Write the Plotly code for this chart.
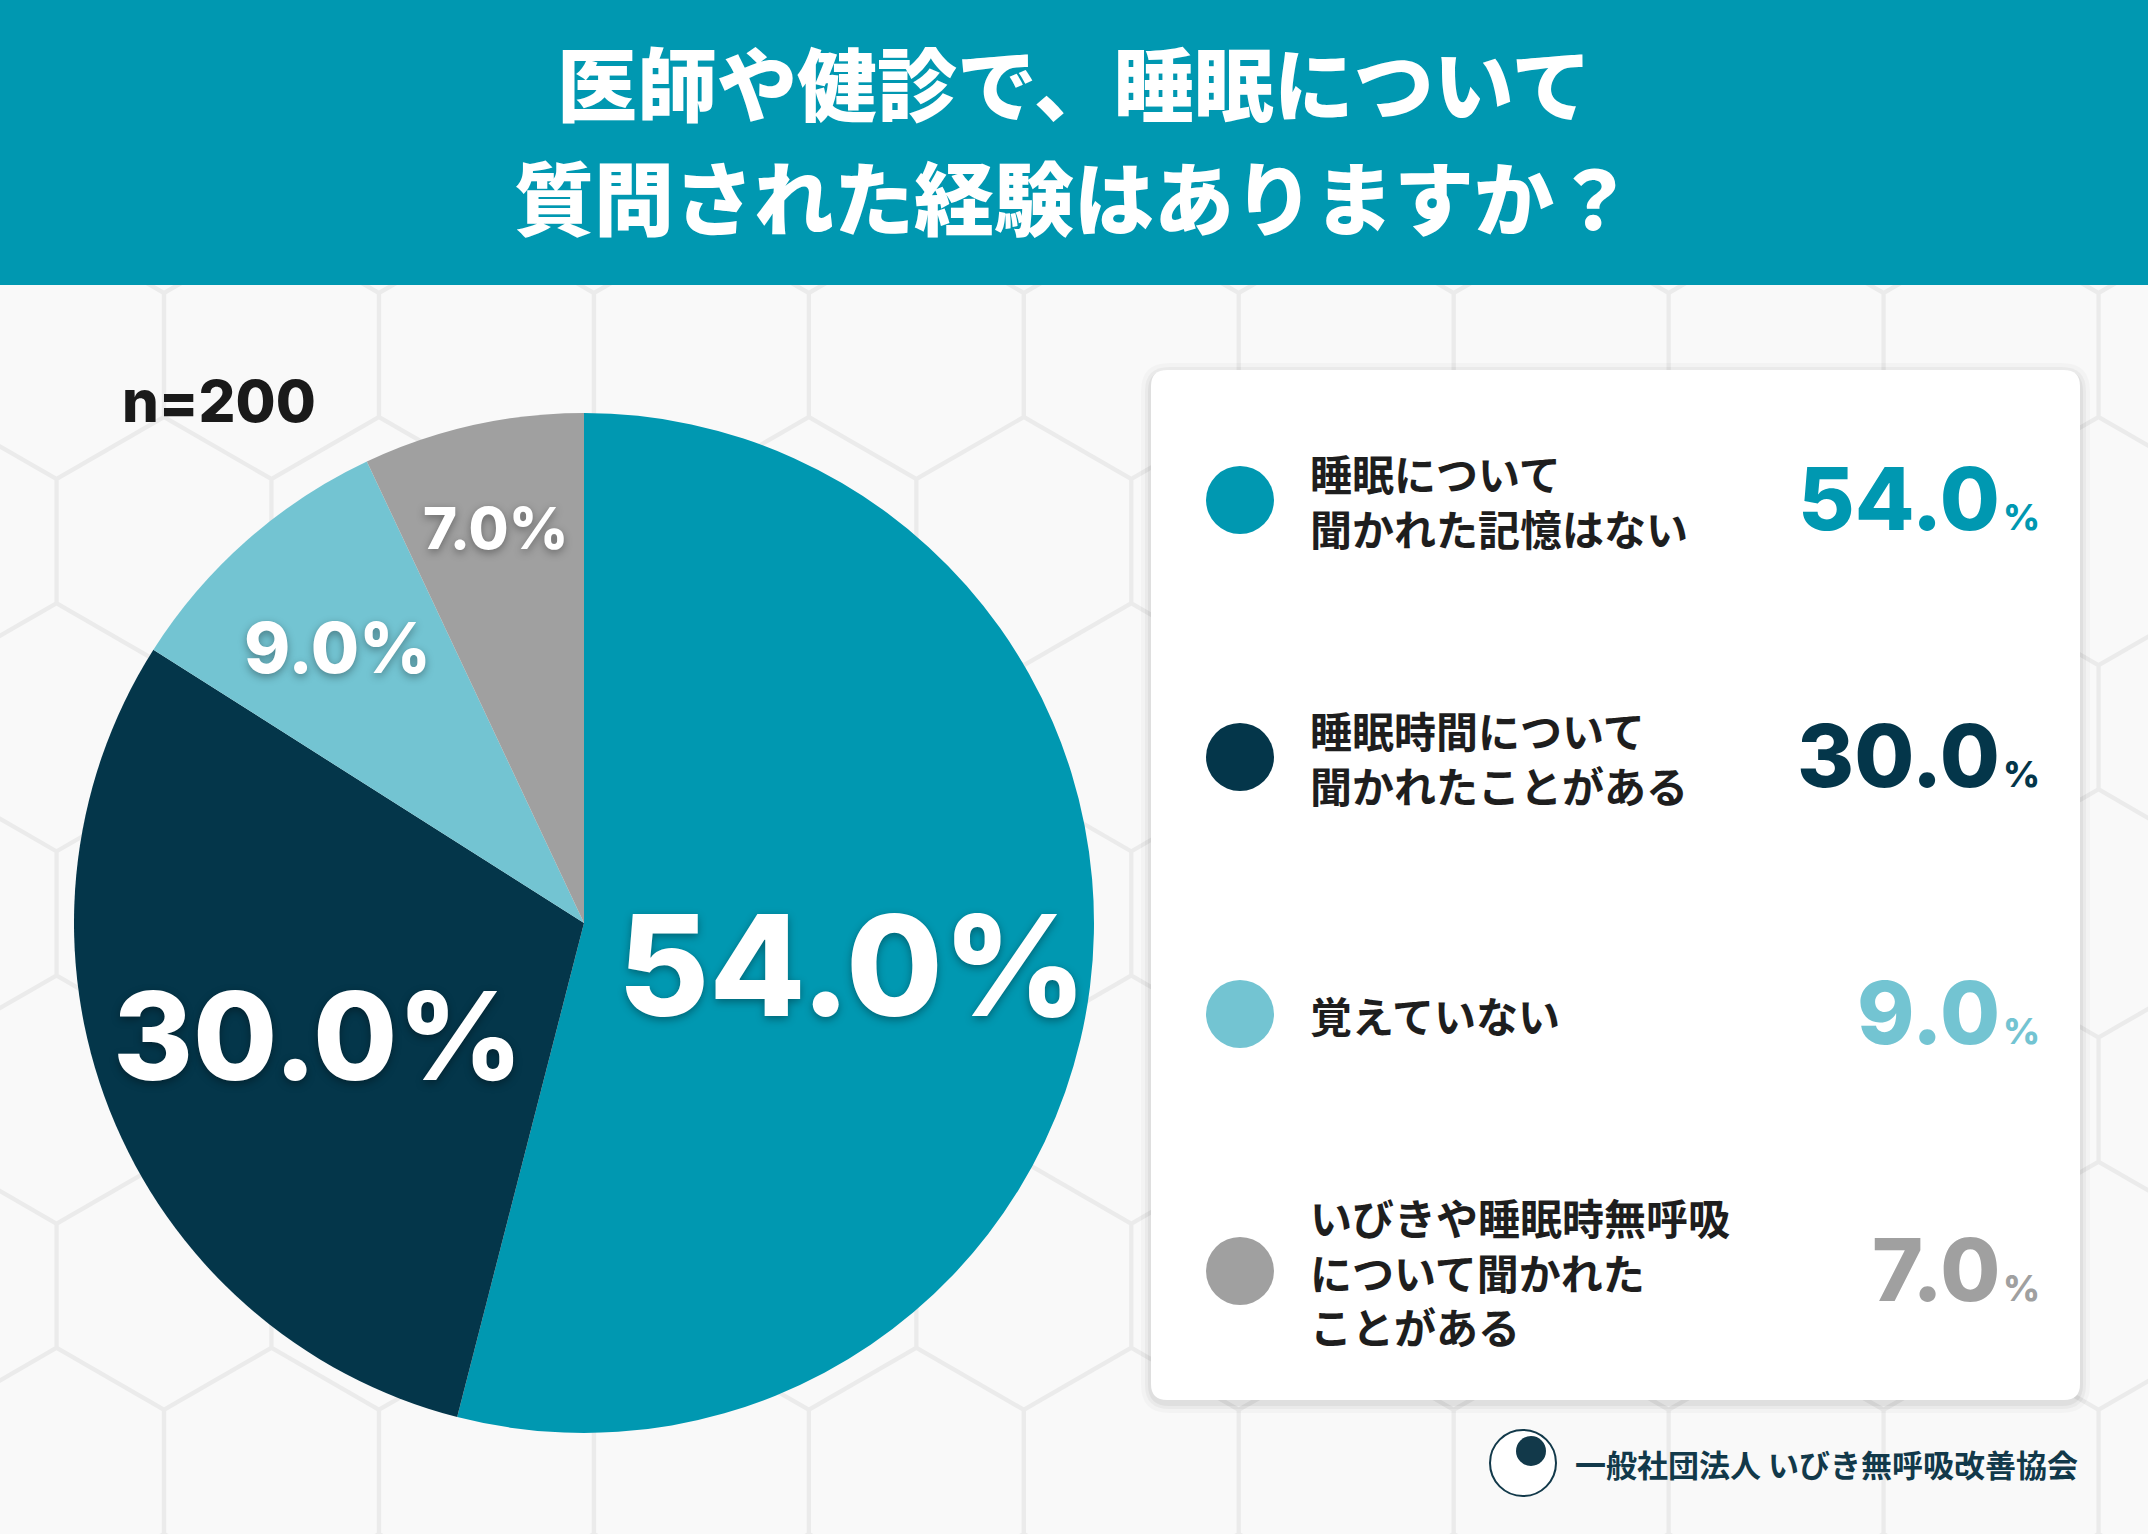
import math
import plotly.graph_objects as go

# --- data ---
categories = [
    "睡眠について<br>聞かれた記憶はない",
    "睡眠時間について<br>聞かれたことがある",
    "覚えていない",
    "いびきや睡眠時無呼吸<br>について聞かれた<br>ことがある",
]
shares = [54.0, 30.0, 9.0, 7.0]
sample_note = "n=200"
title_lines = ["医師や健診で、睡眠について", "質問された経験はありますか？"]
credit = "一般社団法人 いびき無呼吸改善協会"

colors = ["#0098B1", "#04364A", "#73C4D2", "#A0A0A0"]

W, H = 2148, 1534
JP = "Noto Sans CJK JP"
NUM = "Inter"

# pie geometry (px)
cx, cy, R = 584, 923, 510

fig = go.Figure()

fig.add_trace(go.Pie(
    values=shares,
    labels=[c.replace("<br>", "") for c in categories],
    marker=dict(colors=colors, line=dict(width=0)),
    sort=False,
    direction="clockwise",
    rotation=0,
    textinfo="none",
    hoverinfo="label+percent",
    showlegend=False,
    domain=dict(x=[(cx - R) / W, (cx + R) / W],
                y=[(H - cy - R) / H, (H - cy + R) / H]),
))

# legend dots on a pixel overlay axis
row_y = [500 + i * 257 for i in range(len(categories))]
fig.add_trace(go.Scatter(
    x=[1240] * len(categories), y=row_y,
    mode="markers",
    marker=dict(size=68, color=colors, line=dict(width=0)),
    hoverinfo="skip", showlegend=False,
))

shapes = []

# hexagon background
s = 124.1
hw = math.sqrt(3) * s / 2
for r in range(-1, 8):
    yc = 355 + 1.5 * s * r
    x0 = 164 + hw if r % 2 == 0 else 164
    for k in range(-1, 11):
        xc = x0 + 2 * hw * k
        si = s - 2.5
        pts = []
        for a in (-90, -30, 30, 90, 150, 210):
            t = math.radians(a)
            pts.append((xc + si * math.cos(t), yc + si * math.sin(t)))
        path = "M " + " L ".join(f"{px:.1f} {py:.1f}" for px, py in pts) + " Z"
        shapes.append(dict(type="path", path=path, xref="x", yref="y",
                           fillcolor="#f9f9f9", line=dict(width=0), layer="below"))

# header band
shapes.append(dict(type="rect", xref="x", yref="y", x0=0, x1=W, y0=0, y1=285,
                   fillcolor="#0098B1", line=dict(width=0), layer="below"))


def rounded(x0, y0, x1, y1, rr):
    return (f"M {x0+rr} {y0} L {x1-rr} {y0} Q {x1} {y0} {x1} {y0+rr} "
            f"L {x1} {y1-rr} Q {x1} {y1} {x1-rr} {y1} "
            f"L {x0+rr} {y1} Q {x0} {y1} {x0} {y1-rr} "
            f"L {x0} {y0+rr} Q {x0} {y0} {x0+rr} {y0} Z")


# legend card with soft shadow
for pad, op in ((10, 0.025), (6, 0.035), (3, 0.045)):
    shapes.append(dict(type="path", xref="x", yref="y",
                       path=rounded(1151 - pad, 370 - pad + 3, 2080 + pad, 1400 + pad + 3, 18 + pad),
                       fillcolor=f"rgba(0,0,0,{op})", line=dict(width=0), layer="below"))
shapes.append(dict(type="path", xref="x", yref="y",
                   path=rounded(1151, 370, 2080, 1400, 16),
                   fillcolor="white", line=dict(width=0), layer="below"))

# small logo mark
shapes.append(dict(type="circle", xref="x", yref="y", x0=1490, x1=1556, y0=1430, y1=1496,
                   fillcolor="white", line=dict(color="#12394A", width=2), layer="above"))
shapes.append(dict(type="circle", xref="x", yref="y", x0=1516, x1=1546, y0=1436, y1=1466,
                   fillcolor="#12394A", line=dict(width=0), layer="above"))

annotations = []

# title
for i, line in enumerate(title_lines):
    annotations.append(dict(
        text=line, x=W / 2, y=80 + i * 114, xref="x", yref="y",
        xanchor="center", yanchor="middle", showarrow=False,
        font=dict(family=JP, size=80, color="white", weight=900),
    ))

# sample size
annotations.append(dict(
    text=sample_note, x=120, y=401, xref="x", yref="y",
    xanchor="left", yanchor="middle", showarrow=False,
    font=dict(family=NUM, size=58, color="#1a1a1a", weight=800),
))

# percentage labels inside the pie
label_size = [140, 122, 70, 58]
label_rad = [0.53, 0.56, 0.73, 0.80]
total = sum(shares)
cum = 0.0
for v, fs, rf in zip(shares, label_size, label_rad):
    mid = (cum + v / 2) / total * 2 * math.pi
    cum += v
    annotations.append(dict(
        text=f"{v:.1f}%",
        x=cx + rf * R * math.sin(mid),
        y=cy - rf * R * math.cos(mid) + 0.06 * fs,
        xref="x", yref="y", xanchor="center", yanchor="middle", showarrow=False,
        font=dict(family=NUM, size=fs, color="white", weight=800,
                  shadow="0px 3px 8px rgba(0,0,0,0.35)"),
    ))

# legend texts and values
for cat, v, col, yy in zip(categories, shares, colors, row_y):
    annotations.append(dict(
        text=cat, x=1308, y=yy, xref="x", yref="y",
        xanchor="left", yanchor="middle", align="left", showarrow=False,
        font=dict(family=JP, size=42, color="#1e1e1e", weight="bold"),
    ))
    annotations.append(dict(
        text=f"{v:.1f}", x=2002, y=yy - 2, xref="x", yref="y",
        xanchor="right", yanchor="middle", showarrow=False,
        font=dict(family=NUM, size=87, color=col, weight=800),
    ))
    annotations.append(dict(
        text="%", x=2001, y=yy + 17, xref="x", yref="y",
        xanchor="left", yanchor="middle", showarrow=False,
        font=dict(family=NUM, size=36, color=col, weight=800),
    ))

# credit
annotations.append(dict(
    text=credit, x=1573, y=1463, xref="x", yref="y",
    xanchor="left", yanchor="middle", showarrow=False,
    font=dict(family=JP, size=31, color="#12394A", weight="bold"),
))

fig.update_layout(
    width=W, height=H,
    margin=dict(l=0, r=0, t=0, b=0),
    paper_bgcolor="#ebebeb",
    plot_bgcolor="rgba(0,0,0,0)",
    xaxis=dict(range=[0, W], visible=False, fixedrange=True, domain=[0, 1]),
    yaxis=dict(range=[H, 0], visible=False, fixedrange=True, domain=[0, 1]),
    shapes=shapes,
    annotations=annotations,
    showlegend=False,
)

fig.write_html("out.html", config={"displayModeBar": False},
               post_script="document.body.style.margin='0';")
